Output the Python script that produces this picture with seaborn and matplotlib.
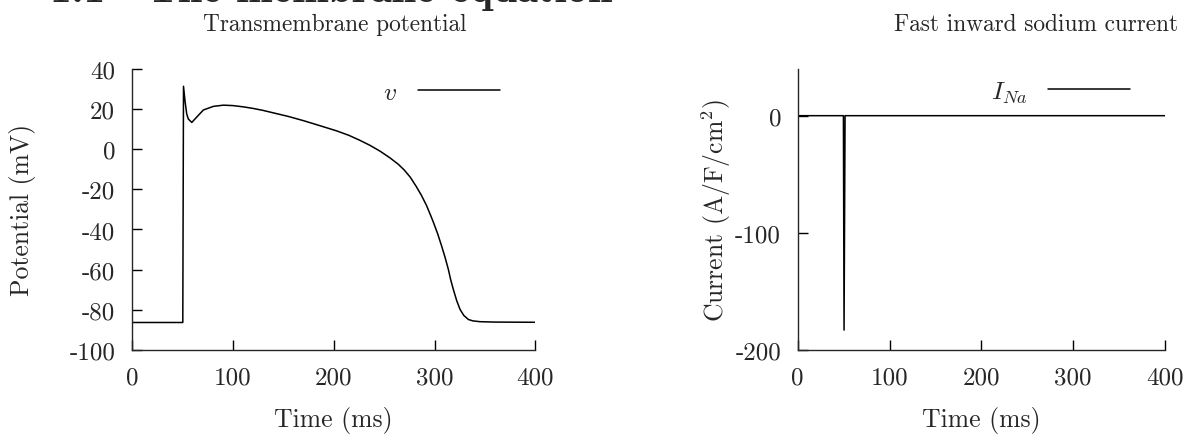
import seaborn as sns
import matplotlib as mpl
import matplotlib.pyplot as plt

# membrane potential
t_v = [0, 50.5, 51.2, 52.7, 54.4, 56, 59.4, 64, 70.9, 80.8, 90.7, 100, 110,
       120, 130, 140, 155, 170, 185, 203, 215, 226, 236, 246, 256, 264, 270,
       276, 282, 287, 292, 296, 299, 303, 307, 310.5, 313.7, 316, 318.6, 322,
       325.3, 329, 333.5, 338, 345, 360, 400]
v = [-86.3, -86.3, 31.3, 24, 17.5, 15, 13.3, 15.8, 19.5, 21.3, 21.9, 21.7, 21.1,
     20.3, 19.3, 18.1, 16.3, 14.2, 11.9, 9.1, 6.9, 4.4, 1.9, -1.0, -4.4, -7.5,
     -10.4, -14, -18.7, -23, -28, -32.8, -36.6, -42, -48.2, -54, -59.9, -65,
     -69.8, -75.5, -79.8, -82.8, -84.8, -85.5, -85.9, -86.1, -86.2]

# fast sodium current
t_ina = [0, 49.8, 50.5, 51.6, 400]
ina = [0, 0, -183, 0, 0]

v_ticks = [40, 20, 0, -20, -40, -60, -80, -100]
ina_ticks = [0, -100, -200]
t_ticks = [0, 100, 200, 300, 400]

sns.set_style('ticks')
plt.rcParams['font.family'] = ['cmr10', 'DejaVu Serif']
plt.rcParams['mathtext.fontset'] = 'cm'
plt.rcParams['axes.unicode_minus'] = False
plt.rcParams['axes.linewidth'] = 1.0
plt.rcParams['xtick.direction'] = 'in'
plt.rcParams['ytick.direction'] = 'in'

fs_tick = 18
fs_lab = 18.5
fs_title = 16.8
W, H = 1192, 435
fig = plt.figure(figsize=(W / 100, H / 100), dpi=100)
ax1 = fig.add_axes([0.1106, 0.1931, 0.3386, 0.6464])
ax2 = fig.add_axes([0.6692, 0.1931, 0.3081, 0.6464])

sns.lineplot(x=t_v, y=v, ax=ax1, color='black', lw=1.1, sort=False,
             estimator=None, label='$v$')
sns.lineplot(x=t_ina, y=ina, ax=ax2, color='black', lw=1.1, sort=False,
             estimator=None, label='$I_{Na}$')

for ax, yt, ylim in [(ax1, v_ticks, (-100, 40)), (ax2, ina_ticks, (-200, 40))]:
    ax.set_xlim(0, 400)
    ax.set_ylim(*ylim)
    ax.set_xticks(t_ticks)
    ax.set_xticklabels([str(t) for t in t_ticks], fontsize=fs_tick)
    ax.set_yticks(yt)
    ax.set_yticklabels([str(y) for y in yt], fontsize=fs_tick)
    ax.tick_params(axis='both', length=7, width=1.0, color='black')
    ax.tick_params(axis='x', pad=12)
    ax.tick_params(axis='y', pad=12)
    ax.spines['top'].set_visible(False)
    ax.spines['right'].set_visible(False)
    ax.set_xlabel('Time (ms)', fontsize=fs_lab)
    ax.xaxis.label.set_va('center')
    ax.xaxis.set_label_coords(0.5, -0.2456)

ax1.set_ylabel('Potential (mV)', fontsize=fs_lab)
ax1.yaxis.label.set_va('center')
ax1.yaxis.set_label_coords(-0.27, 0.5)
ax2.set_ylabel('Current (A/F/cm$^2$)', fontsize=fs_lab)
ax2.yaxis.label.set_va('center')
ax2.yaxis.set_label_coords(-0.222, 0.5)

for ax, xa in [(ax1, 0.912), (ax2, 0.905)]:
    ax.legend(loc='center right', bbox_to_anchor=(xa, 0.918), frameon=False,
              markerfirst=False, handlelength=3.2, handletextpad=0.8,
              borderpad=0, borderaxespad=0, fontsize=fs_lab)

fig.text(335 / W, 1 - 25 / H, 'Transmembrane potential', ha='center',
         va='center', fontsize=fs_title)
fig.text(1036 / W, 1 - 25 / H, 'Fast inward sodium current', ha='center',
         va='center', fontsize=fs_title)

# section heading, cut off by the top edge
fig.text(50 / W, 1 - 2 / H, '1.1', ha='left', va='baseline', fontsize=31,
         family=['cmb10', 'DejaVu Serif'])
fig.text(148 / W, 1 - 2 / H, 'The membrane equation', ha='left',
         va='baseline', fontsize=31, family=['cmb10', 'DejaVu Serif'])

fig.savefig('out.png', dpi=100)
